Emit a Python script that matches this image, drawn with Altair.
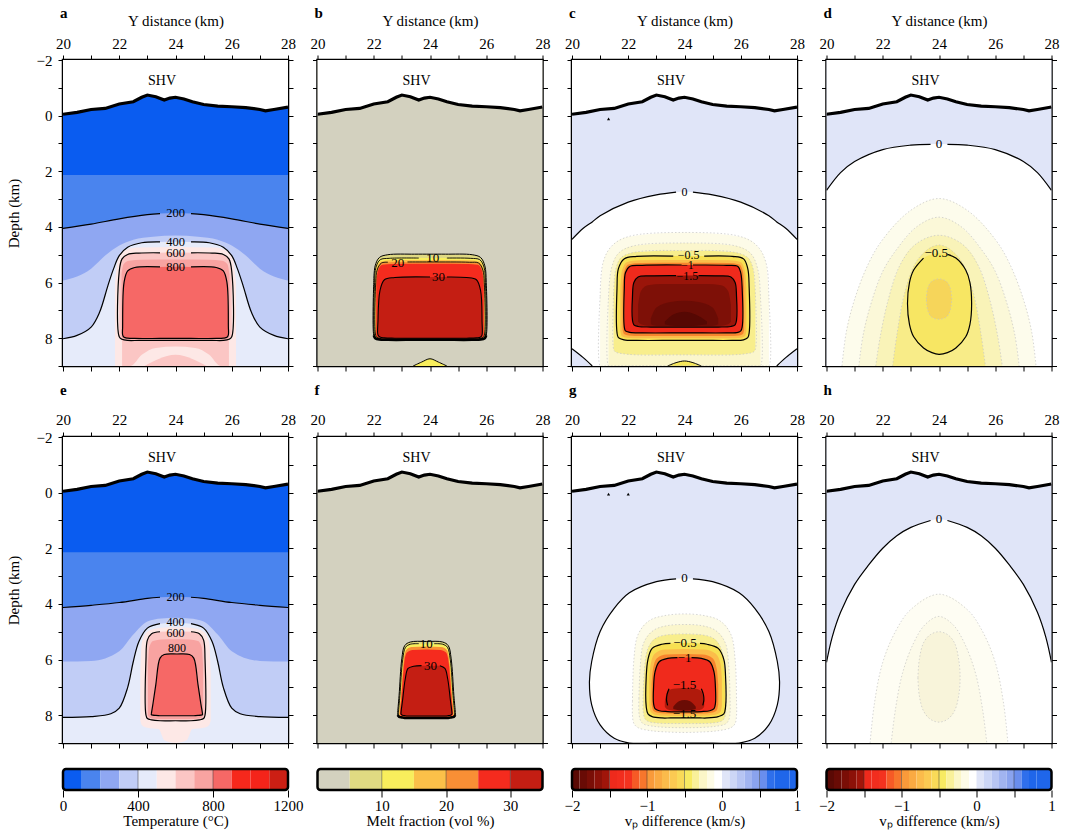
import altair as alt
import pandas as pd

FONT = "Liberation Serif"

# ---------------------------------------------------------------- data
TOPO_X = [20.0, 20.5, 21.0, 21.5, 22.0, 22.5, 22.8, 23.0, 23.3, 23.6, 23.8, 24.0, 24.3, 24.6, 25.0, 25.5, 26.0, 26.5, 27.0, 27.2, 27.5, 28.0]
TOPO_D = [-0.05, -0.12, -0.22, -0.26, -0.42, -0.5, -0.66, -0.74, -0.68, -0.56, -0.63, -0.66, -0.6, -0.5, -0.4, -0.34, -0.32, -0.29, -0.22, -0.17, -0.22, -0.31]

# panel a : temperature
A_T100_X = [20, 28]
A_T100_D = [2.13, 2.13]
A_T200_X = [20, 21, 22, 23, 23.45, 24, 24.55, 25, 26, 27, 28]
A_T200_D = [4.05, 3.9, 3.71, 3.56, 3.52, 3.5, 3.52, 3.56, 3.71, 3.9, 4.05]
A_T300_X = [20, 21, 21.5, 22, 22.5, 23.2, 24, 24.8, 25.5, 26, 26.5, 27, 28]
A_T300_D = [5.93, 5.5, 5.03, 4.67, 4.46, 4.35, 4.31, 4.35, 4.46, 4.67, 5.03, 5.5, 5.93]
A_T400_X = [20, 20.5, 21, 21.3, 21.6, 21.8, 22.0, 22.3, 22.8, 23.45, 24, 24.55, 25.2, 25.7, 26.0, 26.2, 26.4, 26.7, 27, 27.5, 28]
A_T400_D = [8.02, 7.9, 7.6, 7.07, 6.1, 5.5, 5.03, 4.73, 4.57, 4.54, 4.53, 4.54, 4.57, 4.73, 5.03, 5.5, 6.1, 7.07, 7.6, 7.9, 8.02]
A_T500_X = [21.85, 21.95, 22.2, 22.6, 24, 25.4, 25.8, 26.05, 26.15]
A_T500_TOP = [6.0, 5.2, 4.85, 4.74, 4.72, 4.74, 4.85, 5.2, 6.0]
A_T500_BOT = [9, 9, 9, 9, 9, 9, 9, 9, 9]
A_T600_X = [22.0, 22.1, 22.3, 22.7, 23.45, 24, 24.55, 25.3, 25.7, 25.9, 26.0]
A_T600_TOP = [5.6, 5.15, 4.99, 4.94, 4.93, 4.92, 4.93, 4.94, 4.99, 5.15, 5.6]
A_T600_BOT = [7.95, 8.04, 8.08, 8.08, 8.08, 8.08, 8.08, 8.08, 8.08, 8.04, 7.95]
A_T700_X = [22.08, 22.15, 22.35, 22.8, 24, 25.2, 25.65, 25.85, 25.92]
A_T700_TOP = [5.7, 5.35, 5.22, 5.18, 5.17, 5.18, 5.22, 5.35, 5.7]
A_T700_BOT = [7.95, 8.02, 8.05, 8.05, 8.05, 8.05, 8.05, 8.02, 7.95]
A_T800_X = [22.12, 22.17, 22.3, 22.55, 23.45, 24, 24.55, 25.45, 25.7, 25.83, 25.88]
A_T800_TOP = [7.6, 6.0, 5.58, 5.46, 5.44, 5.43, 5.44, 5.46, 5.58, 6.0, 7.6]
A_T800_BOT = [7.88, 7.97, 8.0, 8.01, 8.01, 8.01, 8.01, 8.01, 8.0, 7.97, 7.88]
A_NECK_X = [22.1, 22.4, 22.8, 23.3, 24.0, 24.7, 25.2, 25.6, 25.9]
A_NECK_TOP = [8.0, 8.0, 8.0, 8.0, 8.0, 8.0, 8.0, 8.0, 8.0]
A_NECK_BOT = [9.0, 9.0, 8.6, 8.35, 8.3, 8.35, 8.6, 9.0, 9.0]
A_FOOT_X = [22.9, 23.4, 24.0, 24.6, 25.1]
A_FOOT_TOP = [9.0, 8.75, 8.6, 8.75, 9.0]
A_FOOT_BOT = [9, 9, 9, 9, 9]
A_LABELS = [(24, 3.5, "200"), (24, 4.53, "400"), (24, 4.95, "600"), (24, 5.43, "800")]

# panel b : melt fraction
B_M5_X = [22.0, 22.05, 22.2, 22.5, 23.45, 24, 24.55, 25.5, 25.8, 25.95, 26.0]
B_M5_TOP = [6.0, 5.4, 5.1, 5.0, 4.98, 4.98, 4.98, 5.0, 5.1, 5.4, 6.0]
B_M5_BOT = [7.9, 8.0, 8.05, 8.06, 8.06, 8.06, 8.06, 8.06, 8.05, 8.0, 7.9]
B_M10_X = [22.03, 22.08, 22.23, 22.55, 23.6, 24, 24.6, 25.45, 25.77, 25.92, 25.97]
B_M10_TOP = [6.0, 5.45, 5.18, 5.13, 5.12, 5.12, 5.12, 5.13, 5.18, 5.45, 6.0]
B_M10_BOT = [7.9, 7.99, 8.04, 8.05, 8.05, 8.05, 8.05, 8.05, 8.04, 7.99, 7.9]
B_M15_X = [22.05, 22.1, 22.25, 22.6, 24, 25.4, 25.75, 25.9, 25.95]
B_M15_TOP = [6.0, 5.5, 5.24, 5.2, 5.19, 5.2, 5.24, 5.5, 6.0]
B_M15_BOT = [7.9, 7.98, 8.03, 8.04, 8.04, 8.04, 8.03, 7.98, 7.9]
B_M20_X = [22.07, 22.12, 22.27, 22.5, 23.2, 24, 25.4, 25.73, 25.88, 25.93]
B_M20_TOP = [6.0, 5.55, 5.3, 5.27, 5.26, 5.26, 5.27, 5.3, 5.55, 6.0]
B_M20_BOT = [7.9, 7.97, 8.02, 8.03, 8.03, 8.03, 8.03, 8.02, 7.97, 7.9]
B_M25_X = [22.09, 22.14, 22.3, 22.65, 24, 25.35, 25.7, 25.86, 25.91]
B_M25_TOP = [6.1, 5.6, 5.36, 5.33, 5.32, 5.33, 5.36, 5.6, 6.1]
B_M25_BOT = [7.9, 7.97, 8.01, 8.02, 8.02, 8.02, 8.01, 7.97, 7.9]
B_M30_X = [22.15, 22.22, 22.38, 22.75, 24.0, 24.6, 25.3, 25.65, 25.8, 25.85]
B_M30_TOP = [7.4, 6.3, 5.9, 5.82, 5.8, 5.8, 5.82, 5.9, 6.3, 7.4]
B_M30_BOT = [7.88, 7.96, 7.99, 8.0, 8.0, 8.0, 8.0, 7.99, 7.96, 7.88]
B_BUMP_X = [23.4, 23.7, 24.0, 24.3, 24.6]
B_BUMP_TOP = [9.0, 8.86, 8.74, 8.86, 9.0]
B_BUMP_BOT = [9, 9, 9, 9, 9]
B_LABELS = [(24.1, 5.12, "10"), (22.85, 5.3, "20"), (24.3, 5.8, "30")]

# panel c : vp difference
C_ZERO_X = [20, 20.4, 20.72, 21, 22, 23, 23.7, 24, 24.3, 25, 26, 27, 27.28, 27.6, 28]
C_ZERO_TOP = [4.45, 4.05, 3.82, 3.6, 3.11, 2.85, 2.75, 2.73, 2.75, 2.85, 3.11, 3.6, 3.82, 4.05, 4.45]
C_ZERO_BOT = [8.38, 8.7, 9, 9, 9, 9, 9, 9, 9, 9, 9, 9, 9, 8.7, 8.38]
C_S1_X = [21.0, 21.1, 21.4, 22.0, 24, 26.0, 26.6, 26.9, 27.0]
C_S1_TOP = [6.5, 5.3, 4.7, 4.35, 4.2, 4.35, 4.7, 5.3, 6.5]
C_S1_BOT = [9, 9, 9, 9, 9, 9, 9, 9, 9]
C_S2_X = [21.3, 21.4, 21.65, 22.2, 24, 25.8, 26.35, 26.6, 26.7]
C_S2_TOP = [6.5, 5.5, 4.95, 4.68, 4.58, 4.68, 4.95, 5.5, 6.5]
C_S2_BOT = [9, 9, 9, 9, 9, 9, 9, 9, 9]
C_S3_X = [21.48, 21.55, 21.75, 22.3, 24, 25.7, 26.25, 26.45, 26.52]
C_S3_TOP = [6.4, 5.55, 5.1, 4.9, 4.85, 4.9, 5.1, 5.55, 6.4]
C_S3_BOT = [8.4, 8.5, 8.55, 8.6, 8.6, 8.6, 8.55, 8.5, 8.4]
C_M05_X = [21.6, 21.65, 21.85, 22.3, 23.6, 24.15, 24.7, 25.7, 26.1, 26.25, 26.3]
C_M05_TOP = [6.2, 5.5, 5.15, 5.06, 5.05, 5.05, 5.05, 5.06, 5.15, 5.5, 6.2]
C_M05_BOT = [7.8, 7.98, 8.06, 8.08, 8.08, 8.08, 8.08, 8.08, 8.06, 7.98, 7.8]
C_M07_X = [21.72, 21.77, 21.95, 22.4, 24, 25.6, 26.0, 26.15, 26.2]
C_M07_TOP = [6.2, 5.6, 5.27, 5.2, 5.19, 5.2, 5.27, 5.6, 6.2]
C_M07_BOT = [7.75, 7.92, 7.98, 8.0, 8.0, 8.0, 7.98, 7.92, 7.75]
C_M09_X = [21.8, 21.85, 22.0, 22.45, 24, 25.55, 25.95, 26.08, 26.12]
C_M09_TOP = [6.2, 5.62, 5.35, 5.3, 5.29, 5.3, 5.35, 5.62, 6.2]
C_M09_BOT = [7.7, 7.85, 7.9, 7.92, 7.92, 7.92, 7.9, 7.85, 7.7]
C_M1_X = [21.86, 21.9, 22.05, 22.5, 23.9, 24.3, 25.5, 25.9, 26.0, 26.05]
C_M1_TOP = [6.2, 5.65, 5.42, 5.38, 5.37, 5.37, 5.38, 5.42, 5.65, 6.2]
C_M1_BOT = [7.6, 7.74, 7.79, 7.81, 7.81, 7.81, 7.81, 7.79, 7.74, 7.6]
C_M15_X = [22.15, 22.2, 22.35, 22.8, 23.7, 24.5, 25.2, 25.65, 25.8, 25.85]
C_M15_TOP = [6.5, 6.0, 5.8, 5.76, 5.75, 5.75, 5.76, 5.8, 6.0, 6.5]
C_M15_BOT = [7.35, 7.52, 7.58, 7.6, 7.6, 7.6, 7.6, 7.58, 7.52, 7.35]
C_M16_X = [22.35, 22.45, 22.7, 23.2, 24, 24.8, 25.3, 25.55, 25.65]
C_M16_TOP = [6.8, 6.3, 6.1, 6.05, 6.05, 6.05, 6.1, 6.3, 6.8]
C_M16_BOT = [7.4, 7.5, 7.55, 7.56, 7.56, 7.56, 7.55, 7.5, 7.4]
C_M17_X = [22.8, 23.0, 23.5, 24, 24.5, 25.0, 25.2]
C_M17_TOP = [7.3, 6.9, 6.7, 6.65, 6.7, 6.9, 7.3]
C_M17_BOT = [7.5, 7.55, 7.56, 7.56, 7.56, 7.55, 7.5]
C_M18_X = [23.3, 23.6, 24, 24.4, 24.8]
C_M18_TOP = [7.4, 7.15, 7.05, 7.15, 7.4]
C_M18_BOT = [7.5, 7.55, 7.56, 7.55, 7.5]
C_BUMP_X = [23.4, 23.7, 24.0, 24.3, 24.6]
C_BUMP_TOP = [9.0, 8.88, 8.82, 8.88, 9.0]
C_BUMP_BOT = [9, 9, 9, 9, 9]
C_LABELS = [(24, 2.73, "0"), (24.15, 5.02, "−0.5"), (24.1, 5.38, "−1"), (24.1, 5.77, "−1.5")]
C_STATIONS = [(21.3, 0.12)]

# panel d : vp difference
D_ZERO_X = [20, 20.5, 21, 22, 23, 23.7, 24, 24.3, 25, 26, 27, 27.5, 28]
D_ZERO_TOP = [2.69, 2.05, 1.65, 1.22, 1.06, 1.03, 1.02, 1.03, 1.06, 1.22, 1.65, 2.05, 2.69]
D_S1_X = [20.55, 20.7, 21.0, 21.5, 22.0, 23.0, 24.0, 25.0, 26.0, 26.5, 27.0, 27.3, 27.45]
D_S1_TOP = [9.0, 7.8, 6.6, 5.3, 4.45, 3.4, 2.98, 3.4, 4.45, 5.3, 6.6, 7.8, 9.0]
D_S2_X = [21.15, 21.3, 21.6, 22.0, 22.5, 23.2, 24.0, 24.8, 25.5, 26.0, 26.4, 26.7, 26.85]
D_S2_TOP = [9.0, 7.9, 6.7, 5.6, 4.8, 4.0, 3.65, 4.0, 4.8, 5.6, 6.7, 7.9, 9.0]
D_S3_X = [21.75, 21.9, 22.2, 22.6, 23.2, 24.0, 24.8, 25.4, 25.8, 26.1, 26.25]
D_S3_TOP = [9.0, 8.0, 6.6, 5.4, 4.6, 4.3, 4.6, 5.4, 6.6, 8.0, 9.0]
D_S4_X = [22.35, 22.5, 22.8, 23.3, 24.0, 24.7, 25.2, 25.5, 25.65]
D_S4_TOP = [9.0, 7.9, 6.3, 5.1, 4.65, 5.1, 6.3, 7.9, 9.0]
D_M05_X = [22.88, 22.95, 23.1, 23.45, 23.75, 24.0, 24.3, 24.6, 24.95, 25.1, 25.16]
D_M05_TOP = [6.75, 6.0, 5.55, 5.12, 4.99, 4.95, 4.99, 5.12, 5.55, 6.0, 6.75]
D_M05_BOT = [6.75, 7.5, 7.95, 8.35, 8.52, 8.58, 8.52, 8.35, 7.95, 7.5, 6.75]
D_CORE_X = [23.55, 23.6, 23.75, 24.0, 24.25, 24.4, 24.45]
D_CORE_TOP = [6.6, 6.2, 5.95, 5.87, 5.95, 6.2, 6.6]
D_CORE_BOT = [6.6, 7.0, 7.25, 7.32, 7.25, 7.0, 6.6]
D_LABELS = [(24, 1.02, "0"), (23.9, 4.93, "−0.5")]

# panel e : temperature
E_T100_X = [20, 28]
E_T100_D = [2.14, 2.14]
E_T200_X = [20, 21, 22, 23, 23.45, 24, 24.55, 25, 26, 27, 28]
E_T200_D = [4.13, 4.05, 3.95, 3.8, 3.76, 3.74, 3.76, 3.8, 3.95, 4.05, 4.13]
E_T300_X = [20, 21, 22, 22.5, 23, 23.5, 24, 24.5, 25, 25.5, 26, 27, 28]
E_T300_D = [6.07, 6.05, 5.7, 5.1, 4.63, 4.52, 4.5, 4.52, 4.63, 5.1, 5.7, 6.05, 6.07]
E_T400_X = [20, 21, 21.7, 22, 22.3, 22.5, 22.7, 23.0, 23.45, 24, 24.55, 25, 25.3, 25.5, 25.7, 26, 26.3, 27, 28]
E_T400_D = [8.08, 8.05, 7.95, 7.75, 7.0, 6.07, 5.35, 4.87, 4.71, 4.68, 4.71, 4.87, 5.35, 6.07, 7.0, 7.75, 7.95, 8.05, 8.08]
E_T500_X = [22.75, 22.8, 23.0, 23.4, 23.6, 24, 24.4, 24.6, 25.0, 25.2, 25.25]
E_T500_TOP = [6.5, 5.4, 5.0, 4.87, 4.85, 4.84, 4.85, 4.87, 5.0, 5.4, 6.5]
E_T500_BOT = [8.2, 8.35, 8.45, 8.5, 8.9, 9.0, 8.9, 8.5, 8.45, 8.35, 8.2]
E_T600_X = [22.95, 23.0, 23.15, 23.45, 24, 24.55, 24.85, 25.0, 25.05]
E_T600_TOP = [6.0, 5.3, 5.07, 5.0, 4.98, 5.0, 5.07, 5.3, 6.0]
E_T600_BOT = [8.0, 8.12, 8.17, 8.2, 8.2, 8.2, 8.17, 8.12, 8.0]
E_T700_X = [23.02, 23.07, 23.2, 23.5, 24, 24.5, 24.8, 24.93, 24.98]
E_T700_TOP = [6.2, 5.55, 5.33, 5.28, 5.27, 5.28, 5.33, 5.55, 6.2]
E_T700_BOT = [8.0, 8.08, 8.12, 8.14, 8.14, 8.14, 8.12, 8.08, 8.0]
E_T800_X = [23.14, 23.2, 23.3, 23.45, 23.6, 24.05, 24.5, 24.65, 24.8, 24.9, 24.96]
E_T800_TOP = [7.95, 7.58, 6.9, 5.95, 5.82, 5.8, 5.82, 5.95, 6.9, 7.58, 7.95]
E_T800_BOT = [7.98, 8.0, 8.01, 8.02, 8.02, 8.02, 8.02, 8.02, 8.01, 8.0, 7.98]
E_LABELS = [(24, 3.74, "200"), (24, 4.66, "400"), (24, 5.04, "600"), (24.05, 5.57, "800")]

# panel f : melt fraction
F_M5_X = [22.85, 22.9, 23.0, 23.1, 23.3, 23.87, 24.45, 24.65, 24.75, 24.85, 24.9]
F_M5_TOP = [7.9, 7.3, 5.95, 5.5, 5.37, 5.35, 5.37, 5.5, 5.95, 7.3, 7.9]
F_M5_BOT = [8.0, 8.06, 8.08, 8.1, 8.1, 8.1, 8.1, 8.1, 8.08, 8.06, 8.0]
F_M10_X = [22.88, 22.93, 23.03, 23.13, 23.3, 23.6, 24.15, 24.45, 24.62, 24.72, 24.82, 24.87]
F_M10_TOP = [7.9, 7.3, 6.0, 5.56, 5.45, 5.43, 5.43, 5.45, 5.56, 6.0, 7.3, 7.9]
F_M10_BOT = [7.99, 8.05, 8.07, 8.08, 8.08, 8.08, 8.08, 8.08, 8.08, 8.07, 8.05, 7.99]
F_M20_X = [22.91, 22.96, 23.06, 23.16, 23.35, 23.87, 24.4, 24.59, 24.69, 24.79, 24.84]
F_M20_TOP = [7.9, 7.35, 6.05, 5.65, 5.55, 5.53, 5.55, 5.65, 6.05, 7.35, 7.9]
F_M20_BOT = [7.98, 8.04, 8.06, 8.07, 8.07, 8.07, 8.07, 8.07, 8.06, 8.04, 7.98]
F_M25_X = [22.93, 22.98, 23.08, 23.18, 23.38, 23.87, 24.37, 24.57, 24.67, 24.77, 24.82]
F_M25_TOP = [7.9, 7.4, 6.15, 5.75, 5.66, 5.64, 5.66, 5.75, 6.15, 7.4, 7.9]
F_M25_BOT = [7.98, 8.03, 8.05, 8.06, 8.06, 8.06, 8.06, 8.06, 8.05, 8.03, 7.98]
F_M30_X = [22.97, 23.02, 23.12, 23.22, 23.42, 23.7, 24.35, 24.53, 24.63, 24.73, 24.78]
F_M30_TOP = [7.9, 7.5, 6.7, 6.32, 6.24, 6.22, 6.22, 6.32, 6.7, 7.5, 7.9]
F_M30_BOT = [7.96, 8.0, 8.02, 8.03, 8.03, 8.03, 8.03, 8.03, 8.02, 8.0, 7.96]
F_LABELS = [(23.87, 5.43, "10"), (24.02, 6.22, "30")]

# panel g : vp difference
G_ZERO_X = [20.62, 20.7, 21.0, 21.5, 22.04, 23.0, 23.7, 24.0, 24.3, 25.0, 25.94, 26.5, 27.0, 27.3, 27.38]
G_ZERO_TOP = [6.8, 6.07, 4.99, 4.16, 3.6, 3.2, 3.1, 3.08, 3.1, 3.2, 3.6, 4.16, 4.99, 6.07, 6.8]
G_ZERO_BOT = [6.8, 7.63, 8.35, 8.83, 9.0, 9.0, 9.0, 9.0, 9.0, 9.0, 9.0, 8.83, 8.35, 7.63, 6.8]
G_S1_X = [22.15, 22.2, 22.35, 22.75, 23.3, 24.0, 24.7, 25.25, 25.65, 25.8, 25.85]
G_S1_TOP = [7.5, 6.0, 5.1, 4.6, 4.42, 4.36, 4.42, 4.6, 5.1, 6.0, 7.5]
G_S1_BOT = [8.0, 8.3, 8.45, 8.55, 8.6, 8.62, 8.6, 8.55, 8.45, 8.3, 8.0]
G_S2_X = [22.38, 22.43, 22.55, 22.9, 23.4, 24.0, 24.6, 25.1, 25.45, 25.57, 25.62]
G_S2_TOP = [7.4, 6.2, 5.4, 4.95, 4.78, 4.74, 4.78, 4.95, 5.4, 6.2, 7.4]
G_S2_BOT = [7.9, 8.18, 8.32, 8.4, 8.44, 8.45, 8.44, 8.4, 8.32, 8.18, 7.9]
G_S3_X = [22.53, 22.58, 22.7, 23.0, 23.5, 24.0, 24.5, 25.0, 25.3, 25.42, 25.47]
G_S3_TOP = [7.3, 6.3, 5.6, 5.22, 5.1, 5.08, 5.1, 5.22, 5.6, 6.3, 7.3]
G_S3_BOT = [7.85, 8.1, 8.22, 8.28, 8.3, 8.3, 8.3, 8.28, 8.22, 8.1, 7.85]
G_M05_X = [22.64, 22.7, 22.85, 23.2, 23.5, 24.0, 24.55, 24.8, 25.2, 25.4, 25.46]
G_M05_TOP = [6.6, 6.0, 5.6, 5.45, 5.42, 5.4, 5.42, 5.45, 5.6, 6.0, 6.6]
G_M05_BOT = [7.7, 7.95, 8.05, 8.1, 8.1, 8.1, 8.1, 8.1, 8.05, 7.95, 7.7]
G_M07_X = [22.75, 22.8, 22.95, 23.3, 24.0, 24.7, 25.1, 25.28, 25.33]
G_M07_TOP = [6.7, 6.15, 5.78, 5.64, 5.62, 5.64, 5.78, 6.15, 6.7]
G_M07_BOT = [7.65, 7.88, 7.98, 8.02, 8.03, 8.02, 7.98, 7.88, 7.65]
G_M09_X = [22.83, 22.88, 23.02, 23.35, 24.0, 24.65, 25.0, 25.15, 25.2]
G_M09_TOP = [6.9, 6.35, 5.95, 5.82, 5.8, 5.82, 5.95, 6.35, 6.9]
G_M09_BOT = [7.62, 7.82, 7.9, 7.94, 7.95, 7.94, 7.9, 7.82, 7.62]
G_M1_X = [22.9, 22.95, 23.1, 23.4, 23.75, 24.25, 24.6, 24.9, 25.05, 25.1]
G_M1_TOP = [7.0, 6.45, 6.08, 5.96, 5.93, 5.93, 5.96, 6.08, 6.45, 7.0]
G_M1_BOT = [7.58, 7.76, 7.84, 7.87, 7.88, 7.88, 7.87, 7.84, 7.76, 7.58]
G_M13_X = [23.3, 23.4, 23.6, 24.0, 24.4, 24.6, 24.7]
G_M13_TOP = [7.5, 7.15, 7.05, 7.02, 7.05, 7.15, 7.5]
G_M13_BOT = [7.7, 7.8, 7.84, 7.85, 7.84, 7.8, 7.7]
G_M17_X = [23.6, 23.8, 24.0, 24.2, 24.4]
G_M17_TOP = [7.7, 7.5, 7.45, 7.5, 7.7]
G_M17_BOT = [7.78, 7.82, 7.83, 7.82, 7.78]
G_ARC_L_X = [23.45, 23.38, 23.36, 23.4]
G_ARC_L_D = [7.05, 7.25, 7.45, 7.65]
G_ARC_R_X = [24.6, 24.67, 24.69, 24.65]
G_ARC_R_D = [7.05, 7.25, 7.45, 7.65]
G_LABELS = [(24, 3.08, "0"), (24.02, 5.41, "−0.5"), (24.0, 5.93, "−1"), (24.0, 6.91, "−1.5"), (24.0, 7.96, "−1.5")]
G_STATIONS = [(21.3, 0.05), (22.0, 0.05)]

# panel h : vp difference
H_ZERO_X = [20, 20.2, 20.5, 21, 21.5, 22, 22.5, 23, 23.7, 24, 24.3, 25, 25.5, 26, 26.5, 27, 27.5, 27.8, 28]
H_ZERO_TOP = [6.1, 5.2, 4.3, 3.3, 2.6, 2.0, 1.55, 1.25, 1.0, 0.95, 1.0, 1.25, 1.55, 2.0, 2.6, 3.3, 4.3, 5.2, 6.1]
H_S1_X = [21.55, 21.7, 22.0, 22.5, 23.0, 24.0, 25.0, 25.5, 26.0, 26.3, 26.45]
H_S1_TOP = [9.0, 7.6, 6.1, 4.9, 4.2, 3.65, 4.2, 4.9, 6.1, 7.6, 9.0]
H_S2_X = [22.3, 22.45, 22.7, 23.1, 23.5, 24.0, 24.5, 24.9, 25.3, 25.55, 25.7]
H_S2_TOP = [9.0, 7.8, 6.5, 5.4, 4.75, 4.45, 4.75, 5.4, 6.5, 7.8, 9.0]
H_S3_X = [23.25, 23.3, 23.45, 23.7, 24.0, 24.3, 24.55, 24.7, 24.75]
H_S3_TOP = [6.65, 6.0, 5.4, 5.1, 5.0, 5.1, 5.4, 6.0, 6.65]
H_S3_BOT = [6.65, 7.3, 7.85, 8.15, 8.25, 8.15, 7.85, 7.3, 6.65]
H_LABELS = [(24, 0.95, "0")]

# colour bars
TEMP_BINS = [0, 100, 200, 300, 400, 500, 600, 700, 800, 900, 1000, 1100, 1200]
TEMP_COLORS = ["#0a5cf0", "#4a84ee", "#8fa7f2", "#c1cdf6", "#e6ebfa", "#fde8e6",
               "#fbc6c4", "#f8a3a1", "#f66866", "#f6281c", "#f4241a", "#cc1f14"]
TEMP_TICKS = [0, 400, 800, 1200]
MELT_BINS = [0, 5, 10, 15, 20, 25, 30, 35]
MELT_COLORS = ["#d3d1bf", "#e0da82", "#f8ee5c", "#fbc049", "#f98f35", "#f52b1e", "#c41e13"]
MELT_TICKS = [10, 20, 30]
VP_BINS = [-2.0, -1.9, -1.8, -1.7, -1.6, -1.5, -1.4, -1.3, -1.2, -1.1, -1.0, -0.9, -0.8, -0.7, -0.6,
           -0.5, -0.4, -0.3, -0.2, -0.1, 0.0, 0.1, 0.2, 0.3, 0.4, 0.5, 0.6, 0.7, 0.8, 0.9, 1.0]
VP_COLORS = ["#5a0904", "#690b05", "#7a0e06", "#8c1108", "#a0150a",
             "#ee2a1c", "#f22d1e", "#f4321f", "#f65a26", "#f7762c",
             "#f99a3a", "#faaa42", "#fbbb4b", "#fbca52", "#f9da58",
             "#f7ea62", "#f9f09a", "#fbf6c8", "#fdfbe6", "#ffffff",
             "#e0e5f8", "#ccd6f6", "#b7c5f3", "#a1b4f0", "#8aa3ee",
             "#6a8eed", "#2f6feb", "#1f66ea", "#1f66ea", "#1f66ea"]
VP_TICKS = [-2, -1.5, -1, -0.5, 0, 0.5, 1]

# ---------------------------------------------------------------- styles
W, H = 225, 306
CB_TOP, CB_BOT = H + 26, H + 47
LAV = "#e0e5f8"
SX = alt.Scale(domain=[20, 28], nice=False, zero=False)
SY = alt.Scale(domain=[-2, 9], reverse=True, nice=False, zero=False)


def ex():
    return alt.X("x:Q", scale=SX, axis=None)


def ey():
    return alt.Y("y:Q", scale=SY, axis=None)


def shape(xs, tops, bots, color, interp="monotone"):
    df = pd.DataFrame({"x": xs, "y": tops, "y2": bots})
    return alt.Chart(df).mark_area(color=color, opacity=1, interpolate=interp, clip=True).encode(
        x=ex(), y=ey(), y2=alt.Y2("y2:Q"))


def band(xs, ds, color):
    return shape(xs, [-2] * len(xs), ds, color)


def from_bottom(xs, tops, color):
    return shape(xs, tops, [9] * len(xs), color)


def path(pts, color="black", width=1.2, dash=None, interp="catmull-rom"):
    clean = []
    for p in pts:
        if not clean or (abs(p[0] - clean[-1][0]) > 1e-9 or abs(p[1] - clean[-1][1]) > 1e-9):
            clean.append(p)
    df = pd.DataFrame({"x": [p[0] for p in clean], "y": [p[1] for p in clean], "o": list(range(len(clean)))})
    kw = dict(color=color, strokeWidth=width, interpolate=interp, clip=True)
    if dash:
        kw["strokeDash"] = dash
    return alt.Chart(df).mark_line(**kw).encode(x=ex(), y=ey(), order="o:Q")


def ring(xs, tops, bots, gap=None):
    T = list(zip(xs, tops))
    B = list(zip(xs, bots))
    if gap is None:
        return [T + B[::-1] + [T[0]]]
    g0, g1 = gap
    left = [p for p in T if p[0] <= g0][::-1]
    right = [p for p in T if p[0] >= g1][::-1]
    return [left + B + right]


def curve(xs, ds, gap=None):
    P = list(zip(xs, ds))
    if gap is None:
        return [P]
    return [[p for p in P if p[0] <= gap[0]], [p for p in P if p[0] >= gap[1]]]


def lines(segs, **kw):
    return [path(s, **kw) for s in segs]


def dotted(segs):
    return [path(s, color="#c4c4c4", width=0.7, dash=[1.5, 2]) for s in segs]


def text_layer(items, size=14):
    df = pd.DataFrame(items, columns=["x", "y", "t"])
    return alt.Chart(df).mark_text(font=FONT, fontSize=size, color="black", align="center",
                                   baseline="middle").encode(x=ex(), y=ey(), text="t:N")


def stations(items):
    df = pd.DataFrame(items, columns=["x", "y"])
    return alt.Chart(df).mark_point(shape="triangle-up", filled=True, size=10, color="black",
                                    opacity=1).encode(x=ex(), y=ey())


AXT = dict(tickColor="black", tickWidth=1, tickSize=5, domain=False, grid=False,
           labelFont=FONT, labelFontSize=15, labelColor="black", labelFlush=False,
           labelOverlap=False)
RECT_DF = pd.DataFrame({"x": [20], "x2": [28], "y": [-2], "y2": [9]})


def frame_layers(bg, ylab, xtitle):
    even = "datum.value % 2 == 0 ? datum.label : ''"
    if xtitle:
        top_axis = alt.Axis(orient="top", values=list(range(20, 29)), labelExpr=even, labelPadding=4,
                            title="Y distance (km)", titleFont=FONT, titleFontSize=15,
                            titleFontWeight="normal", titleColor="black", titlePadding=8, **AXT)
    else:
        top_axis = alt.Axis(orient="top", values=list(range(20, 29)), labelExpr=even, labelPadding=5,
                            title=None, **AXT)
    if ylab:
        left_axis = alt.Axis(orient="left", values=list(range(-2, 10)), labelExpr=even, labelPadding=6,
                             title="Depth (km)", titleFont=FONT, titleFontSize=15,
                             titleFontWeight="normal", titleColor="black", titlePadding=15, **AXT)
    else:
        left_axis = alt.Axis(orient="left", values=list(range(-2, 10)), labels=False, title=None, **AXT)
    bottom_axis = alt.Axis(orient="bottom", values=list(range(20, 29)), labels=False, title=None, **AXT)
    right_axis = alt.Axis(orient="right", values=list(range(-2, 10)), labels=False, title=None, **AXT)
    back = alt.Chart(RECT_DF).mark_rect(color=bg).encode(
        x=alt.X("x:Q", scale=SX, axis=top_axis), x2="x2:Q",
        y=alt.Y("y:Q", scale=SY, axis=left_axis), y2="y2:Q")
    ghost = alt.Chart(RECT_DF).mark_rect(opacity=0).encode(
        x=alt.X("x:Q", scale=SX, axis=bottom_axis), x2="x2:Q",
        y=alt.Y("y:Q", scale=SY, axis=right_axis), y2="y2:Q")
    return back, ghost


def cbar_layers(bins, colors, ticks, labexpr, fmt, title, seps):
    sc = alt.Scale(domain=[bins[0], bins[-1]], nice=False, zero=False)
    df = pd.DataFrame({"cx": bins[:-1], "cx2": bins[1:], "c": colors})
    axis = alt.Axis(orient="bottom", offset=CB_BOT - H, values=ticks, labelExpr=labexpr, format=fmt,
                    tickSize=7, tickColor="black", tickWidth=1, domain=False, grid=False, labelFont=FONT,
                    labelFontSize=15, labelColor="black", labelFlush=False, labelOverlap=False,
                    labelPadding=1, title=title, titleFont=FONT, titleFontSize=15,
                    titleFontWeight="normal", titleColor="black", titlePadding=0)
    rect = alt.Chart(df).mark_rect().encode(
        x=alt.X("cx:Q", scale=sc, axis=axis), x2="cx2:Q",
        y=alt.value(CB_TOP), y2=alt.value(CB_BOT),
        color=alt.Color("c:N", scale=None, legend=None))
    rules = alt.Chart(pd.DataFrame({"cx": seps})).mark_rule(
        color="#333333", strokeWidth=0.8, opacity=0.6).encode(
        x=alt.X("cx:Q", scale=sc, axis=None), y=alt.value(CB_TOP), y2=alt.value(CB_BOT))
    border = alt.Chart(pd.DataFrame({"cx": [bins[0]], "cx2": [bins[-1]]})).mark_rect(
        fillOpacity=0, stroke="black", strokeWidth=2.5, cornerRadius=3).encode(
        x=alt.X("cx:Q", scale=sc, axis=None), x2="cx2:Q", y=alt.value(CB_TOP), y2=alt.value(CB_BOT))
    return [rect, rules, border]


def panel(letter, bg, fills, contour, faint, labels, stn=None, ylab=False, xtitle=True, extra=None,
          label_size=13):
    back, ghost = frame_layers(bg, ylab, xtitle)
    sky = shape(TOPO_X, [-2] * len(TOPO_X), TOPO_D, "white", interp="linear")
    topo = path(list(zip(TOPO_X, TOPO_D)), width=3.2, interp="linear")
    shv = text_layer([(23.52, -1.23, "SHV")], size=14)
    let = alt.Chart(pd.DataFrame({"t": [letter]})).mark_text(
        font=FONT, fontSize=15, fontWeight="bold", color="black", align="left", baseline="middle"
    ).encode(x=alt.value(-3), y=alt.value(-47), text="t:N")
    layers = [back] + fills + faint + contour + [sky, topo, shv]
    if labels:
        layers.append(text_layer(labels, size=label_size))
    if stn:
        layers.append(stations(stn))
    layers += [let, ghost]
    if extra:
        layers += extra
    return alt.layer(*layers).resolve_scale(x="independent").resolve_axis(
        x="independent", y="independent").properties(width=W, height=H)


# ---------------------------------------------------------------- panels
TC = TEMP_COLORS
MC = MELT_COLORS
vpexpr = "datum.value % 1 == 0 ? datum.label : ''"

pa = panel("a", TC[4], [
    band(A_T400_X, A_T400_D, TC[3]),
    band(A_T300_X, A_T300_D, TC[2]),
    band(A_T200_X, A_T200_D, TC[1]),
    band(A_T100_X, A_T100_D, TC[0]),
    shape(A_T500_X, A_T500_TOP, A_T500_BOT, TC[5]),
    shape(A_NECK_X, A_NECK_TOP, A_NECK_BOT, TC[6]),
    shape(A_FOOT_X, A_FOOT_TOP, A_FOOT_BOT, TC[6]),
    shape(A_T600_X, A_T600_TOP, A_T600_BOT, TC[6]),
    shape(A_T700_X, A_T700_TOP, A_T700_BOT, TC[7]),
    shape(A_T800_X, A_T800_TOP, A_T800_BOT, TC[8]),
],
    lines(curve(A_T200_X, A_T200_D, (23.45, 24.55)))
    + lines(curve(A_T400_X, A_T400_D, (23.45, 24.55)))
    + lines(ring(A_T600_X, A_T600_TOP, A_T600_BOT, (23.45, 24.55)))
    + lines(ring(A_T800_X, A_T800_TOP, A_T800_BOT, (23.45, 24.55))),
    [], A_LABELS, ylab=True, label_size=12.5)

pb = panel("b", MC[0], [
    shape(B_M5_X, B_M5_TOP, B_M5_BOT, MC[1]),
    shape(B_M10_X, B_M10_TOP, B_M10_BOT, MC[2]),
    shape(B_M15_X, B_M15_TOP, B_M15_BOT, MC[3]),
    shape(B_M20_X, B_M20_TOP, B_M20_BOT, MC[4]),
    shape(B_M25_X, B_M25_TOP, B_M25_BOT, MC[5]),
    shape(B_M30_X, B_M30_TOP, B_M30_BOT, MC[6]),
    shape(B_BUMP_X, B_BUMP_TOP, B_BUMP_BOT, MC[2]),
],
    lines(ring(B_M5_X, B_M5_TOP, B_M5_BOT), width=1.0)
    + lines(ring(B_M10_X, B_M10_TOP, B_M10_BOT, (23.6, 24.6)), width=0.9)
    + lines(ring(B_M20_X, B_M20_TOP, B_M20_BOT, (22.5, 23.2)), width=0.9)
    + lines(ring(B_M30_X, B_M30_TOP, B_M30_BOT, (24.0, 24.6)), width=1.1)
    + lines(curve(B_M5_X, B_M5_BOT), width=2.5)
    + lines(curve(B_BUMP_X, B_BUMP_TOP), width=1.0),
    [], B_LABELS)

pc = panel("c", LAV, [
    shape(C_ZERO_X, C_ZERO_TOP, C_ZERO_BOT, "#ffffff"),
    shape(C_S1_X, C_S1_TOP, C_S1_BOT, "#fdfbe8"),
    shape(C_S2_X, C_S2_TOP, C_S2_BOT, "#fbf6cc"),
    shape(C_S3_X, C_S3_TOP, C_S3_BOT, "#f8ee8c"),
    shape(C_M05_X, C_M05_TOP, C_M05_BOT, "#f7e052"),
    shape(C_M07_X, C_M07_TOP, C_M07_BOT, "#fbbd4a"),
    shape(C_M09_X, C_M09_TOP, C_M09_BOT, "#f7842e"),
    shape(C_M1_X, C_M1_TOP, C_M1_BOT, "#f02a1c"),
    shape(C_M15_X, C_M15_TOP, C_M15_BOT, "#9a150a"),
    shape(C_M16_X, C_M16_TOP, C_M16_BOT, "#7e1007"),
    shape(C_M17_X, C_M17_TOP, C_M17_BOT, "#6a0c05"),
    shape(C_M18_X, C_M18_TOP, C_M18_BOT, "#560803"),
    shape(C_BUMP_X, C_BUMP_TOP, C_BUMP_BOT, "#f7e85a"),
],
    lines(curve(C_ZERO_X, C_ZERO_TOP, (23.7, 24.3)))
    + lines([list(zip(C_ZERO_X[:3], C_ZERO_BOT[:3])), list(zip(C_ZERO_X[-3:], C_ZERO_BOT[-3:]))])
    + lines(ring(C_M05_X, C_M05_TOP, C_M05_BOT, (23.6, 24.7)))
    + lines(ring(C_M1_X, C_M1_TOP, C_M1_BOT, (23.9, 24.3)))
    + lines(ring(C_M15_X, C_M15_TOP, C_M15_BOT, (23.7, 24.5)))
    + lines(curve(C_BUMP_X, C_BUMP_TOP), width=1.0),
    dotted(ring(C_S1_X, C_S1_TOP, C_S1_BOT) + ring(C_S2_X, C_S2_TOP, C_S2_BOT)
           + ring(C_S3_X, C_S3_TOP, C_S3_BOT)),
    C_LABELS, stn=C_STATIONS, label_size=12)

pd_ = panel("d", LAV, [
    from_bottom(D_ZERO_X, D_ZERO_TOP, "#ffffff"),
    from_bottom(D_S1_X, D_S1_TOP, "#fdfcec"),
    from_bottom(D_S2_X, D_S2_TOP, "#fbf8d8"),
    from_bottom(D_S3_X, D_S3_TOP, "#f9f3b8"),
    from_bottom(D_S4_X, D_S4_TOP, "#f8ec88"),
    shape(D_M05_X, D_M05_TOP, D_M05_BOT, "#f7e663"),
    shape(D_CORE_X, D_CORE_TOP, D_CORE_BOT, "#f6d55a"),
],
    lines(curve(D_ZERO_X, D_ZERO_TOP, (23.7, 24.3)))
    + lines(ring(D_M05_X, D_M05_TOP, D_M05_BOT, (23.45, 24.3))),
    dotted(curve(D_S1_X, D_S1_TOP) + curve(D_S2_X, D_S2_TOP) + curve(D_S3_X, D_S3_TOP)
           + curve(D_S4_X, D_S4_TOP) + ring(D_CORE_X, D_CORE_TOP, D_CORE_BOT)),
    D_LABELS)

pe = panel("e", TC[4], [
    band(E_T400_X, E_T400_D, TC[3]),
    band(E_T300_X, E_T300_D, TC[2]),
    band(E_T200_X, E_T200_D, TC[1]),
    band(E_T100_X, E_T100_D, TC[0]),
    shape(E_T500_X, E_T500_TOP, E_T500_BOT, TC[5]),
    shape(E_T600_X, E_T600_TOP, E_T600_BOT, TC[6]),
    shape(E_T700_X, E_T700_TOP, E_T700_BOT, TC[7]),
    shape(E_T800_X, E_T800_TOP, E_T800_BOT, TC[8]),
],
    lines(curve(E_T200_X, E_T200_D, (23.45, 24.55)))
    + lines(curve(E_T400_X, E_T400_D, (23.45, 24.55)))
    + lines(ring(E_T600_X, E_T600_TOP, E_T600_BOT, (23.45, 24.55)))
    + lines(ring(E_T800_X, E_T800_TOP, E_T800_BOT)),
    [], E_LABELS, ylab=True, xtitle=False, label_size=12,
    extra=cbar_layers(TEMP_BINS, TEMP_COLORS, TEMP_TICKS, "datum.label", "d", "Temperature (°C)", [400, 800]))

pf = panel("f", MC[0], [
    shape(F_M5_X, F_M5_TOP, F_M5_BOT, MC[1]),
    shape(F_M10_X, F_M10_TOP, F_M10_BOT, MC[2]),
    shape(F_M20_X, F_M20_TOP, F_M20_BOT, MC[4]),
    shape(F_M25_X, F_M25_TOP, F_M25_BOT, MC[5]),
    shape(F_M30_X, F_M30_TOP, F_M30_BOT, MC[6]),
],
    lines(ring(F_M5_X, F_M5_TOP, F_M5_BOT), width=1.0)
    + lines(ring(F_M10_X, F_M10_TOP, F_M10_BOT, (23.6, 24.15)), width=0.9)
    + lines(ring(F_M30_X, F_M30_TOP, F_M30_BOT, (23.7, 24.35)), width=1.1)
    + lines(curve(F_M5_X, F_M5_BOT), width=2.5),
    [], F_LABELS, xtitle=False,
    extra=cbar_layers(MELT_BINS, MELT_COLORS, MELT_TICKS, "datum.label", "d", "Melt fraction (vol %)", [10, 20, 30]))

pg = panel("g", LAV, [
    shape(G_ZERO_X, G_ZERO_TOP, G_ZERO_BOT, "#ffffff"),
    shape(G_S1_X, G_S1_TOP, G_S1_BOT, "#fdfbe8"),
    shape(G_S2_X, G_S2_TOP, G_S2_BOT, "#fbf6cc"),
    shape(G_S3_X, G_S3_TOP, G_S3_BOT, "#f8ee8c"),
    shape(G_M05_X, G_M05_TOP, G_M05_BOT, "#f7e052"),
    shape(G_M07_X, G_M07_TOP, G_M07_BOT, "#fbbd4a"),
    shape(G_M09_X, G_M09_TOP, G_M09_BOT, "#f7842e"),
    shape(G_M1_X, G_M1_TOP, G_M1_BOT, "#f02a1c"),
    shape(G_M13_X, G_M13_TOP, G_M13_BOT, "#b01a0c"),
    shape(G_M17_X, G_M17_TOP, G_M17_BOT, "#6a0c05"),
],
    lines(ring(G_ZERO_X, G_ZERO_TOP, G_ZERO_BOT, (23.7, 24.3)))
    + lines(ring(G_M05_X, G_M05_TOP, G_M05_BOT, (23.5, 24.55)))
    + lines(ring(G_M1_X, G_M1_TOP, G_M1_BOT, (23.75, 24.25)))
    + lines([list(zip(G_ARC_L_X, G_ARC_L_D)), list(zip(G_ARC_R_X, G_ARC_R_D))]),
    dotted(ring(G_S1_X, G_S1_TOP, G_S1_BOT) + ring(G_S2_X, G_S2_TOP, G_S2_BOT)
           + ring(G_S3_X, G_S3_TOP, G_S3_BOT)),
    G_LABELS, stn=G_STATIONS, xtitle=False,
    extra=cbar_layers(VP_BINS, VP_COLORS, VP_TICKS, vpexpr, ".0f", "vₚ difference (km/s)", [-1.5, -1, -0.5, 0.5]))

ph = panel("h", LAV, [
    from_bottom(H_ZERO_X, H_ZERO_TOP, "#ffffff"),
    from_bottom(H_S1_X, H_S1_TOP, "#fefdf3"),
    from_bottom(H_S2_X, H_S2_TOP, "#fcfae9"),
    shape(H_S3_X, H_S3_TOP, H_S3_BOT, "#f8f4da"),
],
    lines(curve(H_ZERO_X, H_ZERO_TOP, (23.7, 24.3))),
    dotted(curve(H_S1_X, H_S1_TOP) + curve(H_S2_X, H_S2_TOP) + ring(H_S3_X, H_S3_TOP, H_S3_BOT)),
    H_LABELS, xtitle=False,
    extra=cbar_layers(VP_BINS, VP_COLORS, VP_TICKS, vpexpr, ".0f", "vₚ difference (km/s)", [-1.5, -1, -0.5, 0.5]))

chart = alt.concat(pa, pb, pc, pd_, pe, pf, pg, ph, columns=4,
                   spacing={"row": 71, "column": 29.5}, bounds="flush").configure_view(
    stroke="black", strokeWidth=2.5
).properties(background="white", padding={"left": 4, "top": 4, "right": 5, "bottom": 5})

chart.save("out.html", embed_options={"renderer": "svg", "actions": False})
